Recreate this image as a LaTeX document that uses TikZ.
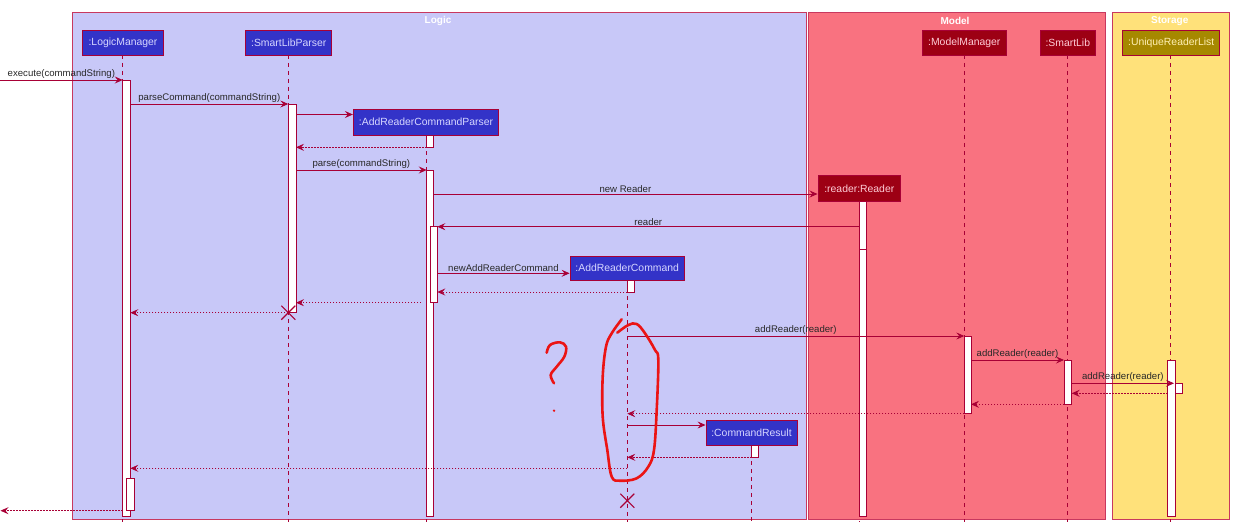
\documentclass[tikz,border=0pt]{standalone}
\usepackage{fontspec}
\setmainfont{Liberation Sans}
\usetikzlibrary{arrows.meta}
\definecolor{crim}{RGB}{168,0,54}
\definecolor{gborder}{RGB}{200,56,95}
\definecolor{logicbg}{RGB}{200,200,248}
\definecolor{logicpt}{RGB}{51,51,200}
\definecolor{logictx}{RGB}{215,215,255}
\definecolor{modelbg}{RGB}{249,114,128}
\definecolor{modelpt}{RGB}{157,0,20}
\definecolor{modeltx}{RGB}{255,205,215}
\definecolor{storbg}{RGB}{255,225,122}
\definecolor{storpt}{RGB}{166,136,0}
\definecolor{stortx}{RGB}{255,240,180}
\definecolor{scrib}{RGB}{235,20,20}
\definecolor{lbltx}{RGB}{40,40,40}
\tikzset{
  group/.style={draw=gborder, line width=0.8pt},
  gtitle/.style={font=\bfseries\fontsize{10}{12}\selectfont, text=white, inner sep=0pt},
  part/.style={draw=crim, line width=0.9pt, inner sep=0pt, minimum height=25pt, font=\fontsize{10.4}{12}\selectfont},
  lpart/.style={part, fill=logicpt, text=logictx},
  mpart/.style={part, fill=modelpt, text=modeltx},
  spart/.style={part, fill=storpt, text=stortx},
  life/.style={draw=crim, line width=0.6pt, dash pattern=on 4pt off 4pt},
  act/.style={draw=crim, fill=white, line width=0.8pt},
  msg/.style={draw=crim, line width=0.8pt, -{Stealth[length=8pt,width=7pt,inset=3pt]}},
  ret/.style={msg, dash pattern=on 1.5pt off 1.5pt},
  lbl/.style={font=\fontsize{9.6}{11}\selectfont, text=lbltx, above, inner sep=1pt, midway},
  xmark/.style={draw=crim, line width=1.2pt},
  scribble/.style={draw=scrib, line width=2.6pt, line cap=round, line join=round}
}
\begin{document}
\begin{tikzpicture}[x=1pt,y=-1pt]
\useasboundingbox (0,0) rectangle (1260,532);
% groups
\draw[group, fill=logicbg] (72.3,12.3) rectangle (806.7,519);
\draw[group, fill=modelbg] (808,12.3) rectangle (1105.7,519);
\draw[group, fill=storbg] (1112,12.3) rectangle (1229.7,519);
\node[gtitle] (tlogic) at (438,21) {Logic};
\node[gtitle] (tmodel) at (955,21) {Model};
\node[gtitle] (tstor) at (1169.7,21) {Storage};
% participants
\node[lpart, minimum width=81pt] (lm) at (123,42.5) {:LogicManager};
\node[lpart, minimum width=86pt] (slp) at (288.7,42.5) {:SmartLibParser};
\node[lpart, minimum width=145.4pt, minimum height=25.7pt] (arcp) at (426,122.2) {:AddReaderCommandParser};
\node[mpart, minimum width=82.7pt, minimum height=25.3pt] (rdr) at (859.3,188.3) {:reader:Reader};
\node[mpart, minimum width=83.3pt] (mm) at (964.3,42.5) {:ModelManager};
\node[mpart, minimum width=55.7pt] (sl) at (1067.8,42.5) {:SmartLib};
\node[spart, minimum width=97pt] (url) at (1171.2,42.5) {:UniqueReaderList};
\node[lpart, minimum width=114.3pt, minimum height=24pt] (arc) at (627.2,268) {:AddReaderCommand};
\node[lpart, minimum width=91pt] (cr) at (751.5,432.5) {:CommandResult};
% lifelines
\coordinate (bot) at (0,522);
\coordinate (lmT) at (122.7,55);   \draw[life] (lmT) -- (lmT |- bot);
\coordinate (slpT) at (288.3,55);  \draw[life] (slpT) -- (slpT |- bot);
\coordinate (arcpT) at (426.5,135.1); \draw[life] (arcpT) -- (arcpT |- bot);
\coordinate (rdrT) at (859.3,201); \draw[life] (rdrT) -- (rdrT |- bot);
\coordinate (mmT) at (964.3,55);   \draw[life] (mmT) -- (mmT |- bot);
\coordinate (slT) at (1067.7,55);  \draw[life] (slT) -- (slT |- bot);
\coordinate (urlT) at (1170.3,55); \draw[life] (urlT) -- (urlT |- bot);
\coordinate (arcT) at (627.3,280); \draw[life] (arcT) -- (arcT |- bot);
\coordinate (crT) at (751.7,445);  \draw[life] (crT) -- (crT |- bot);
% activations
\draw[act] (122.7,80) rectangle (130.3,516.7);
\draw[act] (126.3,478) rectangle (134.3,510.3);
\draw[act] (288.3,104) rectangle (296,312.3);
\draw[act] (426.7,135) rectangle (433.3,147.3);
\draw[act] (426.7,170) rectangle (433.3,516.7);
\draw[act] (430,226.7) rectangle (437.3,302.7);
\draw[act] (859.3,201) rectangle (866.7,249.5);
\draw[act] (859.3,249.5) rectangle (866.7,516.7);
\draw[act] (627.3,280) rectangle (634,292);
\draw[act] (964.3,336) rectangle (971,413.7);
\draw[act] (1064,360) rectangle (1071.7,404.3);
\draw[act] (1167.7,360) rectangle (1175.3,516.7);
\draw[act] (1175.3,383.3) rectangle (1182.3,393.3);
\draw[act] (751.7,445) rectangle (758.3,457.3);
% messages
\coordinate (m1a) at (0,80);       \coordinate (m1b) at (122.7,80);
\draw[msg] (m1a) -- (m1b) node[lbl] {execute(commandString)};
\coordinate (m2a) at (130.3,104);  \coordinate (m2b) at (288.3,104);
\draw[msg] (m2a) -- (m2b) node[lbl] {parseCommand(commandString)};
\coordinate (m3a) at (296,114.5);
\draw[msg] (m3a) -- (arcp.west |- m3a);
\coordinate (m4a) at (426.7,147.3); \coordinate (m4b) at (296,147.3);
\draw[ret] (m4a) -- (m4b);
\coordinate (m5a) at (296,170);    \coordinate (m5b) at (426.7,170);
\draw[msg] (m5a) -- (m5b) node[lbl] {parse(commandString)};
\coordinate (m6a) at (433.3,194);
\draw[msg] (m6a) -- (rdr.west |- m6a) node[lbl] {new Reader};
\coordinate (m7a) at (859.3,226.7); \coordinate (m7b) at (437.3,226.7);
\draw[msg] (m7a) -- (m7b) node[lbl] {reader};
\coordinate (m8a) at (437.3,273.3);
\draw[msg] (m8a) -- (arc.west |- m8a) node[lbl] {newAddReaderCommand};
\coordinate (m9a) at (627.3,292);  \coordinate (m9b) at (437.3,292);
\draw[ret] (m9a) -- (m9b);
\coordinate (m10a) at (421,302.7); \coordinate (m10b) at (296,302.7);
\draw[ret] (m10a) -- (m10b);
\coordinate (m11a) at (288.3,312.7); \coordinate (m11b) at (130.3,312.7);
\draw[ret] (m11a) -- (m11b);
\coordinate (m12a) at (627.3,336); \coordinate (m12b) at (964.3,336);
\draw[msg] (m12a) -- (m12b) node[lbl] {addReader(reader)};
\coordinate (m13a) at (971,360);   \coordinate (m13b) at (1064,360);
\draw[msg] (m13a) -- (m13b) node[lbl] {addReader(reader)};
\coordinate (m14a) at (1071.7,383.3); \coordinate (m14b) at (1174,383.3);
\draw[msg] (m14a) -- (m14b) node[lbl] {addReader(reader)};
\coordinate (m15a) at (1167.7,393.3); \coordinate (m15b) at (1071.7,393.3);
\draw[ret] (m15a) -- (m15b);
\coordinate (m16a) at (1064,404.3); \coordinate (m16b) at (971,404.3);
\draw[ret] (m16a) -- (m16b);
\coordinate (m17a) at (964.3,413.7); \coordinate (m17b) at (627.3,413.7);
\draw[ret] (m17a) -- (m17b);
\coordinate (m18a) at (627.3,425);
\draw[msg] (m18a) -- (cr.west |- m18a);
\coordinate (m19a) at (751.7,457.3); \coordinate (m19b) at (627.3,457.3);
\draw[ret] (m19a) -- (m19b);
\coordinate (m20a) at (627.3,468.3); \coordinate (m20b) at (130.3,468.3);
\draw[ret] (m20a) -- (m20b);
\coordinate (m21a) at (122.7,510.7); \coordinate (m21b) at (0.5,510.7);
\draw[ret] (m21a) -- (m21b);
% destroy marks
\coordinate (x1) at (288.3,312.7);
\draw[xmark] (x1) +(-7,-7) -- +(7,7) (x1) +(-7,7) -- +(7,-7);
\coordinate (x2) at (627.3,500.7);
\draw[xmark] (x2) +(-7,-7) -- +(7,7) (x2) +(-7,7) -- +(7,-7);
% red hand-drawn annotations
\draw[scribble] plot[smooth, tension=0.6] coordinates {(621.7,319.3) (611.7,333.3) (606,346.7) (602.7,376.7) (602.7,416.7) (607.3,450) (611.7,476.7) (620,480.7) (636.7,478.3) (648.3,466.7) (654,450) (656.7,410) (658.3,360) (655,350) (645,333.3) (636.7,324) (628.3,325) (617.3,332.7)};
\draw[scribble] plot[smooth, tension=0.6] coordinates {(546.7,352.7) (550,345) (560,342.3) (566,346.7) (564.3,356.7) (556.7,366.7) (550.7,375) (554,383.3)};
\fill[scrib] (554,410.7) circle (1.3);
\end{tikzpicture}
\end{document}
